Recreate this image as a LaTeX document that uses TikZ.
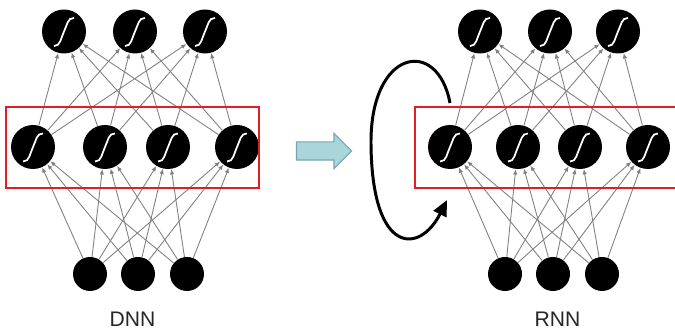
\documentclass[tikz,border=0pt]{standalone}
\usepackage{fontspec}
\setmainfont{Liberation Sans}
\usetikzlibrary{arrows.meta,shapes.arrows}
\definecolor{boxred}{RGB}{225,30,35}
\definecolor{flowfill}{RGB}{168,214,218}
\definecolor{flowline}{RGB}{120,165,172}
\tikzset{
	neuron/.style={circle,fill=black,inner sep=0pt,minimum size=0.88cm,
		path picture={\draw[white,line width=1pt,shift={(path picture bounding box.center)}]
			(-0.2,-0.29) .. controls (-0.07,-0.3) and (-0.06,-0.12) .. (0,0)
			.. controls (0.06,0.12) and (0.07,0.28) .. (0.2,0.27);}},
	innode/.style={circle,fill=black,inner sep=0pt,minimum size=0.68cm},
	conn/.style={gray,line width=0.5pt,-{Latex[length=3pt,width=2.5pt]}},
	hidbox/.style={draw=boxred,line width=1.2pt},
	recur/.style={line width=1.7pt,-{Triangle[length=9pt,width=8pt]}},
	flow/.style={single arrow,fill=flowfill,draw=flowline,line width=0.6pt,inner xsep=0pt,
		inner ysep=0.17cm,minimum height=1.1cm,single arrow head extend=0.17cm},
	tag/.style={font=\fontsize{12}{14}\selectfont,text=black!85}
}
\begin{document}
\begin{tikzpicture}[scale=1.0]
	\useasboundingbox (0,0) rectangle (13.5,6.58);
	\clip (0,0) rectangle (13.5,6.58);
	% DNN
	\foreach \n/\x in {1/1.28,2/2.70,3/4.10} \node[neuron] (dt\n) at (\x,5.95) {};
	\foreach \n/\x in {1/0.66,2/2.10,3/3.36,4/4.74} \node[neuron] (dh\n) at (\x,3.64) {};
	\foreach \n/\x in {1/1.80,2/2.76,3/3.74} \node[innode] (di\n) at (\x,1.10) {};
	\foreach \i in {1,2,3} \foreach \h in {1,...,4} \draw[conn] (di\i) -- (dh\h);
	\foreach \h in {1,...,4} \foreach \t in {1,2,3} \draw[conn] (dh\h) -- (dt\t);
	\draw[hidbox] (0.12,2.82) rectangle (5.18,4.44);
	\node[tag] (dname) at (2.65,0.2) {DNN};
	\node[flow] (morph) at (6.39,3.56) {};
	% RNN
	\foreach \n/\x in {1/9.60,2/11.00,3/12.36} \node[neuron] (rt\n) at (\x,5.95) {};
	\foreach \n/\x in {1/9.00,2/10.36,3/11.60,4/12.96} \node[neuron] (rh\n) at (\x,3.64) {};
	\foreach \n/\x in {1/10.10,2/11.06,3/12.04} \node[innode] (ri\n) at (\x,1.10) {};
	\foreach \i in {1,2,3} \foreach \h in {1,...,4} \draw[conn] (ri\i) -- (rh\h);
	\foreach \h in {1,...,4} \foreach \t in {1,2,3} \draw[conn] (rh\h) -- (rt\t);
	\draw[hidbox] (8.30,2.82) rectangle (13.7,4.44);
	\coordinate (loopa) at (9.00,4.52);
	\coordinate (loopb) at (8.94,2.58);
	\draw[recur] (loopa) .. controls (8.75,5.85) and (7.40,5.6) .. (7.42,3.7)
		.. controls (7.44,1.45) and (8.4,1.5) .. (loopb);
	\node[tag] (rname) at (11.15,0.2) {RNN};
\end{tikzpicture}
\end{document}
